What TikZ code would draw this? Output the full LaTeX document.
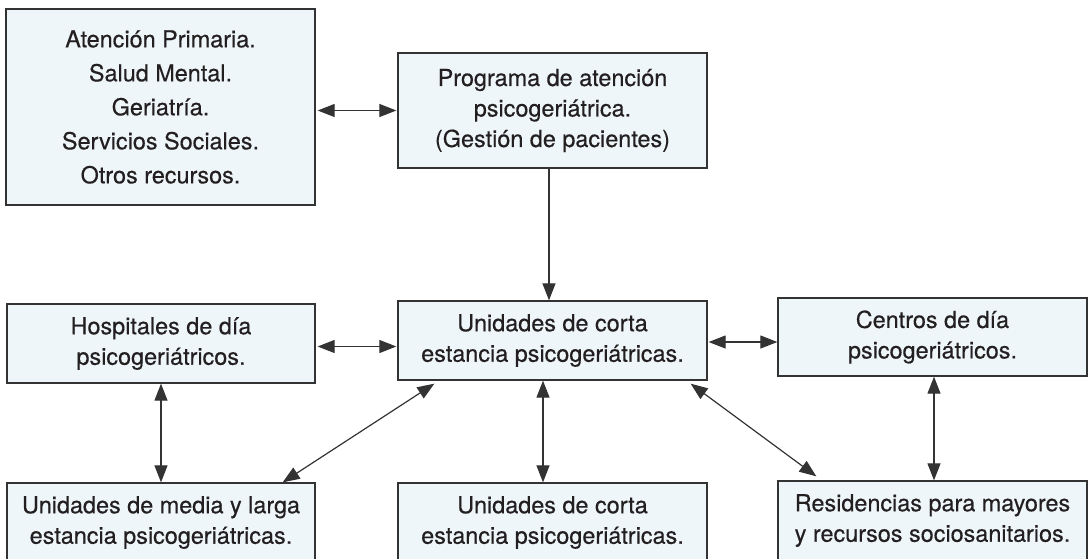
\documentclass[tikz,border=0pt]{standalone}
\usepackage{fontspec}
\setmainfont{TeX Gyre Heros}[FakeBold=0.35]
\usetikzlibrary{arrows.meta,calc}
\definecolor{boxfill}{HTML}{EEF6FA}
\definecolor{boxline}{HTML}{333333}
\definecolor{txt}{HTML}{231F20}
\begin{document}
\begin{tikzpicture}[x=1pt,y=-1pt,
  box/.style={draw=boxline, fill=boxfill, line width=1.3pt, align=center, inner sep=0pt,
    text=txt, font=\fontsize{23.4}{29}\selectfont},
  conn/.style={draw=boxline, line width=1.2pt, -{Triangle[length=17pt,width=13pt]}},
  biconn/.style={draw=boxline, line width=1.2pt, {Triangle[length=17pt,width=13pt]}-{Triangle[length=17pt,width=13pt]}}]
\useasboundingbox (0,0) rectangle (1090,558);
\clip (0,0) rectangle (1090,558);
\node[box, minimum width=309, minimum height=196] (tl) at (160.5,107)
  {Atención Primaria.\\[5pt]Salud Mental.\\[5pt]Geriatría.\\[5pt]Servicios Sociales.\\[5pt]Otros recursos.};
\node[box, minimum width=309, minimum height=115] (prog) at (552.5,110.5)
  {Programa de atención\\[1.5pt]psicogeriátrica.\\[1.5pt](Gestión de pacientes)};
\node[box, minimum width=308, minimum height=79] (hosp) at (161,343.5)
  {Hospitales de día\\[1.5pt]psicogeriátricos.};
\node[box, minimum width=309, minimum height=79] (cen) at (552.5,340.5)
  {Unidades de corta\\[1.5pt]estancia psicogeriátricas.};
\node[box, minimum width=309, minimum height=78] (cd) at (932.5,337)
  {Centros de día\\[1.5pt]psicogeriátricos.};
\node[box, minimum width=308, minimum height=79] (media) at (161,522.5)
  {Unidades de media y larga\\[1.5pt]estancia psicogeriátricas.};
\node[box, minimum width=309, minimum height=79] (bot) at (552.5,522.5)
  {Unidades de corta\\[1.5pt]estancia psicogeriátricas.};
\node[box, minimum width=309, minimum height=79] (res) at (932.5,520.5)
  {Residencias para mayores\\[1.5pt]y recursos sociosanitarios.};
% connectors
\draw[biconn, shorten <=2pt, shorten >=1pt] (tl.east |- prog.west) -- (prog.west);
\draw[conn] ([xshift=-3.5pt]prog.south) -- ([xshift=-3.5pt]prog.south |- cen.north);
\draw[biconn, shorten <=2pt, shorten >=1pt] ([yshift=-3pt]hosp.east) -- ([yshift=-3pt]hosp.east -| cen.west);
\draw[biconn, shorten <=1pt] ([yshift=-1.5pt]cen.east) -- ([yshift=-1.5pt]cen.east -| cd.west);
\draw[biconn] (hosp.south) -- (hosp.south |- media.north);
\draw[biconn] ([xshift=-9.5pt]cen.south) -- ([xshift=-9.5pt]cen.south |- bot.north);
\draw[biconn] ([xshift=1.5pt]cd.south) -- ([xshift=1.5pt]cd.south |- res.north);
\draw[biconn] ($(cen.south west)+(37,3)$) -- ($(media.north east)+(-33,0)$);
\draw[biconn] ($(cen.south east)+(-17,3)$) -- ($(res.north west)+(39,-4)$);
\end{tikzpicture}
\end{document}
